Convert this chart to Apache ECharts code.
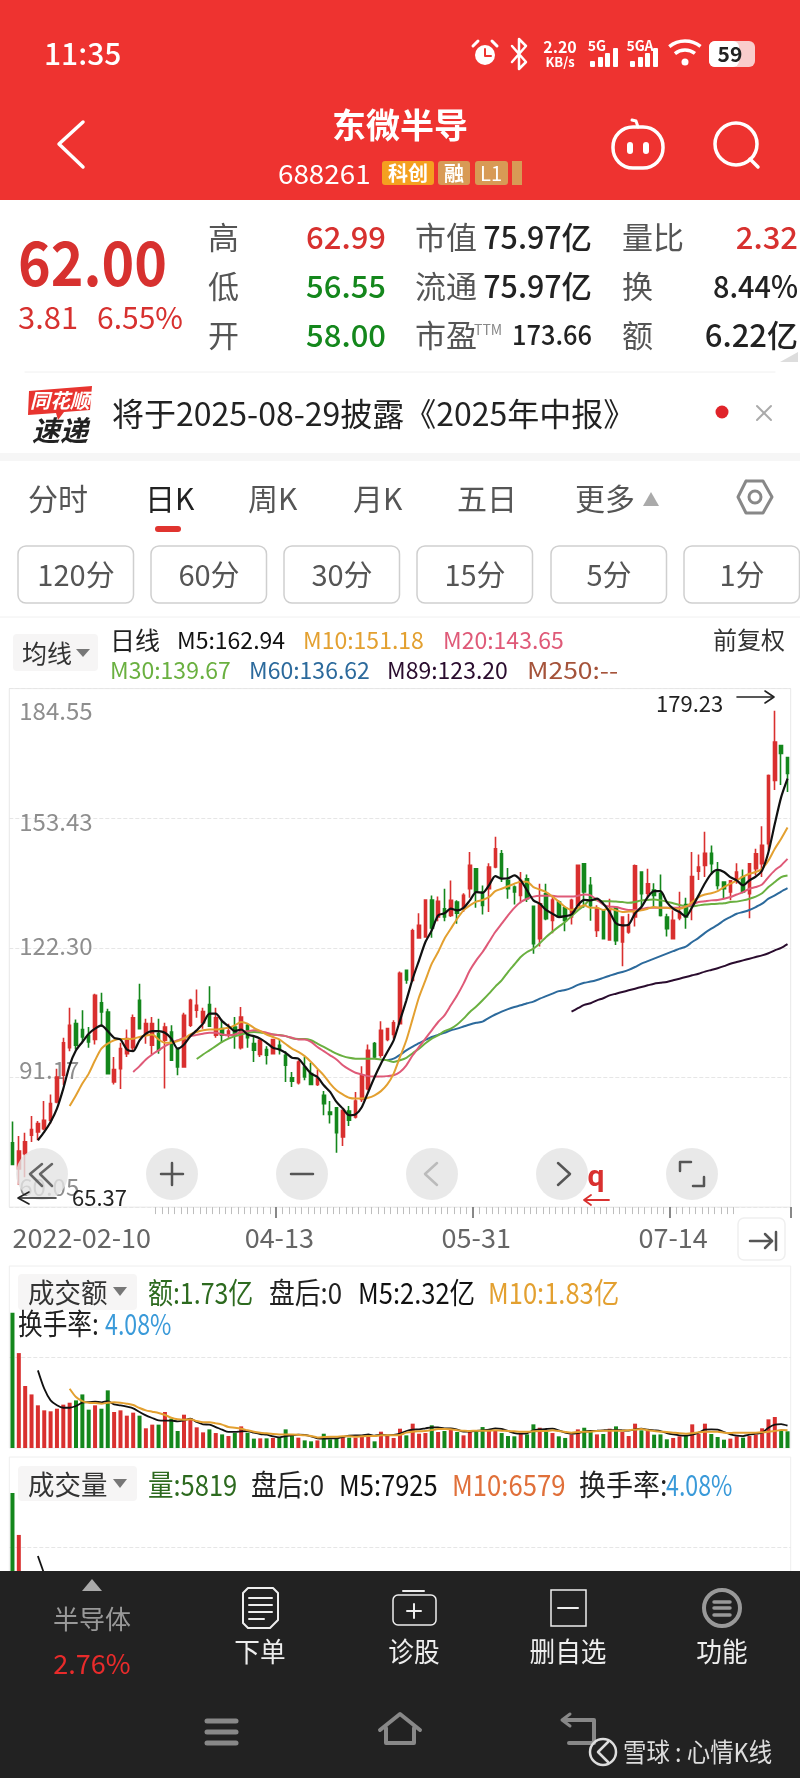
<!DOCTYPE html>
<html>
<head>
<meta charset="utf-8">
<title>东微半导 日K</title>
<style>
    html, body { margin: 0; padding: 0; background: #fff; }
    #main { width: 800px; height: 1778px; }
</style>
<script src="https://cdn.jsdelivr.net/npm/echarts@6/dist/echarts.min.js"></script>
</head>
<body>
<div id="main"></div>
<script>
// K线 数据 (从截图读取, 共123根)
var opens = [75.5, 69.2, 72.9, 77.3, 78.1, 78.9, 80.9, 85.3, 91.7, 98.3,
    104.1, 102.7, 101.3, 100.3, 109.1, 106.9, 90.1, 93.3, 96.9, 98.3,
    109.7, 101.3, 98.9, 101.7, 100.1, 102.1, 98.1, 93.7, 103.7, 107.3,
    104.3, 108.7, 101.3, 102.9, 101.3, 103.3, 98.3, 103.7, 99.3, 96.7,
    97.9, 96.9, 98.9, 96.5, 91.1, 89.9, 93.7, 92.1, 89.5, 86.9,
    82.9, 83.9, 76.9, 83.1, 81.7, 85.9, 88.5, 99.3, 96.5, 100.3,
    101.5, 104.1, 116.9, 114.5, 124.7, 124.9, 133.8, 129.7, 131.7, 130.1,
    133.3, 131.9, 136.5, 141.3, 135.7, 136.5, 141.7, 144.9, 138.5, 136.9,
    134.9, 138.9, 132.3, 124.5, 135.3, 128.9, 133.3, 131.9, 129.7, 132.5,
    142.5, 137.3, 126.5, 131.3, 124.2, 132.0, 123.7, 126.1, 129.7, 140.5,
    135.4, 136.2, 135.3, 129.7, 124.5, 129.5, 132.7, 132.9, 140.7, 142.1,
    145.0, 140.5, 138.1, 135.7, 138.3, 139.3, 135.3, 141.3, 142.5, 147.3,
    162.5, 170.9, 168.0];
var closes = [70.3, 73.5, 75.7, 78.7, 80.1, 80.9, 84.9, 91.3, 99.5, 103.7,
    98.9, 100.9, 99.7, 110.9, 106.9, 92.1, 93.1, 98.1, 100.5, 105.5,
    102.9, 104.1, 104.1, 97.7, 103.3, 95.3, 93.7, 106.1, 109.7, 108.5,
    107.0, 103.5, 105.5, 101.3, 102.3, 101.3, 105.7, 100.7, 97.7, 100.1,
    96.5, 100.3, 97.9, 94.1, 90.3, 94.9, 91.3, 89.5, 90.9, 84.9,
    82.3, 77.9, 83.3, 80.9, 85.5, 91.7, 97.7, 96.1, 102.5, 102.9,
    104.3, 116.2, 114.6, 126.4, 127.7, 133.8, 127.1, 133.5, 129.7, 133.7,
    130.6, 134.9, 142.1, 135.7, 132.5, 141.7, 146.1, 139.3, 136.5, 135.7,
    138.5, 134.1, 123.3, 132.9, 129.3, 133.8, 129.7, 128.9, 133.7, 142.1,
    135.7, 132.4, 131.7, 124.5, 131.7, 124.0, 129.7, 127.7, 142.0, 135.3,
    137.7, 134.9, 130.1, 126.9, 128.9, 130.9, 129.7, 139.4, 141.7, 145.0,
    142.5, 137.3, 136.5, 138.4, 140.5, 135.7, 142.5, 144.9, 146.9, 163.7,
    171.7, 169.0, 164.2];
var lows = [70.3, 65.37, 67.2, 75.7, 76.1, 78.5, 80.1, 85.0, 89.3, 97.5,
    97.9, 99.7, 98.3, 99.1, 103.3, 92.1, 89.5, 88.4, 96.1, 97.7,
    102.9, 99.3, 96.7, 96.9, 88.5, 95.3, 91.7, 93.7, 103.3, 105.5,
    102.9, 103.5, 100.7, 99.5, 100.7, 98.1, 97.9, 98.3, 94.9, 96.1,
    94.3, 96.7, 96.7, 90.1, 88.9, 89.5, 90.5, 89.5, 89.1, 82.1,
    80.1, 73.1, 74.7, 79.5, 81.3, 85.3, 88.1, 95.7, 95.9, 99.9,
    100.5, 103.9, 113.7, 114.3, 124.5, 124.7, 124.7, 128.7, 128.7, 129.7,
    128.1, 130.9, 134.3, 131.9, 130.3, 130.9, 141.4, 138.1, 134.1, 132.7,
    133.0, 133.3, 120.9, 122.6, 128.9, 125.8, 129.5, 126.3, 127.9, 132.2,
    131.9, 128.8, 124.9, 124.5, 124.1, 123.0, 117.9, 125.7, 127.4, 132.0,
    134.5, 132.0, 129.8, 125.0, 124.3, 128.9, 126.9, 128.9, 138.6, 139.3,
    139.9, 136.3, 134.1, 133.7, 137.7, 135.4, 129.4, 139.7, 139.3, 145.7,
    160.2, 161.4, 159.7];
var highs = [80.6, 77.1, 77.9, 81.9, 80.7, 85.5, 87.1, 93.3, 100.7, 107.9,
    105.1, 107.3, 103.3, 111.3, 111.5, 107.7, 96.1, 99.5, 102.7, 106.3,
    113.7, 105.3, 105.7, 105.3, 104.3, 103.7, 98.3, 106.7, 110.1, 112.3,
    107.9, 113.1, 107.9, 105.1, 104.1, 105.7, 108.1, 104.1, 101.3, 100.5,
    98.7, 100.5, 100.3, 97.5, 92.5, 95.3, 96.1, 94.7, 93.1, 87.9,
    85.5, 83.9, 83.3, 84.3, 87.7, 93.9, 99.1, 99.7, 104.7, 102.9,
    104.9, 116.6, 116.9, 126.9, 130.6, 133.8, 134.9, 134.6, 136.5, 138.5,
    133.7, 135.4, 145.3, 141.5, 137.3, 142.6, 149.0, 145.8, 141.5, 137.3,
    140.5, 139.9, 132.3, 137.7, 137.7, 134.5, 133.7, 132.2, 134.1, 142.1,
    142.5, 139.3, 132.5, 131.3, 134.1, 132.2, 129.7, 130.5, 142.3, 140.7,
    141.3, 137.8, 139.9, 130.5, 131.3, 135.8, 134.3, 145.3, 144.7, 150.2,
    146.9, 142.9, 138.2, 138.6, 142.6, 141.1, 142.7, 146.1, 151.5, 163.9,
    179.23, 170.9, 168.2];

// 均线 数据
var ma5 = [null, null, null, null, 76.1, 78.1, 80.5, 83.7, 88.5, 94.1,
    97.7, 99.7, 101.7, 102.9, 103.7, 102.3, 100.7, 100.3, 97.9, 97.5,
    100.1, 101.7, 102.3, 102.3, 101.9, 100.5, 98.1, 99.1, 101.1, 102.5,
    104.1, 106.5, 106.5, 104.7, 103.5, 102.3, 102.7, 101.5, 101.1, 100.5,
    99.5, 98.3, 97.9, 97.1, 95.9, 95.7, 93.9, 92.1, 91.3, 89.3,
    87.7, 85.3, 83.7, 82.1, 82.3, 84.1, 87.7, 91.3, 94.5, 97.3,
    100.1, 104.9, 109.7, 114.9, 119.3, 123.7, 126.5, 130.1, 130.6, 131.7,
    131.3, 131.9, 133.7, 135.7, 135.5, 137.3, 139.5, 138.9, 139.0, 139.7,
    138.5, 136.1, 133.7, 132.9, 131.4, 130.5, 129.7, 129.9, 130.3, 132.5,
    133.8, 133.7, 134.1, 132.9, 130.9, 128.2, 127.7, 127.9, 130.6, 132.1,
    134.5, 135.9, 135.9, 133.3, 131.7, 130.9, 129.8, 132.1, 134.9, 137.8,
    140.1, 141.0, 140.5, 139.3, 138.5, 137.3, 138.5, 139.4, 140.9, 145.3,
    152.1, 158.5, 162.94];
var ma10 = [null, null, null, null, null, null, null, null, null, 84.3,
    86.9, 89.7, 92.1, 95.3, 98.1, 99.3, 100.1, 100.4, 100.4, 100.5,
    100.9, 101.2, 101.5, 100.3, 99.5, 99.5, 99.9, 100.5, 101.5, 102.1,
    102.5, 102.7, 102.7, 102.9, 103.1, 103.7, 104.5, 104.1, 103.1, 102.3,
    101.5, 100.9, 100.3, 99.2, 98.1, 97.3, 96.3, 94.9, 93.3, 91.7,
    89.7, 88.1, 87.1, 86.3, 86.1, 86.1, 86.3, 86.9, 87.9, 89.5,
    92.1, 96.1, 100.1, 105.3, 110.5, 114.5, 118.5, 121.3, 124.5, 126.9,
    129.3, 131.3, 132.5, 133.4, 133.8, 134.5, 135.9, 136.5, 137.1, 137.7,
    138.2, 138.2, 136.9, 136.3, 135.7, 134.6, 133.4, 132.1, 131.4, 131.9,
    132.5, 131.9, 131.9, 131.4, 131.7, 131.3, 130.9, 131.0, 131.1, 131.3,
    131.7, 132.1, 131.9, 131.9, 131.7, 131.7, 132.2, 133.3, 134.5, 135.1,
    135.4, 135.9, 136.9, 137.7, 138.5, 139.4, 140.1, 140.5, 141.3, 143.3,
    146.1, 148.5, 151.18];
var ma20 = [null, null, null, null, null, null, null, null, null, null,
    null, null, null, null, null, null, null, null, null, 92.5,
    93.9, 95.5, 96.7, 97.7, 98.7, 99.5, 100.1, 100.7, 101.1, 101.4,
    101.7, 101.9, 101.9, 101.5, 101.3, 101.5, 102.1, 102.3, 102.5, 102.3,
    101.9, 101.5, 101.3, 101.1, 100.7, 100.3, 100.3, 99.7, 98.5, 97.5,
    96.5, 95.5, 94.1, 93.1, 92.3, 91.9, 91.5, 91.4, 91.4, 91.5,
    91.7, 92.5, 94.1, 96.5, 98.5, 100.5, 102.5, 104.5, 106.1, 108.5,
    110.9, 113.7, 116.9, 119.3, 121.3, 123.7, 126.1, 128.1, 130.1, 131.9,
    133.3, 134.1, 134.6, 134.8, 134.8, 134.8, 134.6, 134.6, 134.6, 134.8,
    135.1, 134.9, 133.8, 132.7, 132.2, 132.1, 131.7, 131.4, 131.4, 131.6,
    131.9, 131.9, 131.9, 131.9, 131.9, 131.9, 132.2, 132.7, 133.3, 133.5,
    133.7, 133.8, 134.1, 134.5, 135.1, 135.7, 136.5, 136.9, 137.5, 139.3,
    140.9, 142.1, 143.65];
var ma30 = [null, null, null, null, null, null, null, null, null, null,
    null, null, null, null, null, null, null, null, null, null,
    null, null, null, null, null, null, null, null, null, 95.6,
    96.7, 97.7, 98.7, 99.7, 100.5, 101.1, 101.5, 101.9, 102.1, 102.0,
    101.7, 101.5, 101.4, 101.1, 100.6, 100.4, 100.4, 100.1, 99.3, 98.5,
    97.7, 96.9, 96.3, 95.9, 95.7, 95.7, 95.7, 95.7, 95.5, 95.3,
    94.9, 95.3, 95.9, 97.0, 98.1, 99.4, 100.5, 101.3, 102.3, 102.9,
    103.9, 105.3, 106.9, 108.2, 109.7, 111.3, 113.0, 114.5, 116.5, 118.3,
    120.1, 121.3, 122.1, 123.4, 124.9, 126.2, 127.4, 128.5, 129.9, 131.3,
    132.5, 133.9, 133.7, 133.5, 133.5, 133.4, 133.3, 133.1, 133.3, 133.7,
    133.8, 133.9, 133.7, 133.4, 133.0, 132.6, 132.3, 132.3, 132.5, 132.7,
    132.8, 132.9, 133.0, 133.3, 133.4, 133.7, 134.1, 134.6, 135.4, 136.9,
    138.1, 139.3, 139.67];
var ma60 = [null, null, null, null, null, null, null, null, null, null,
    null, null, null, null, null, null, null, null, null, null,
    null, null, null, null, null, null, null, null, null, null,
    null, null, null, null, null, null, null, null, null, null,
    null, null, null, null, null, null, null, null, null, null,
    null, null, null, null, null, null, null, null, null, 95.3,
    95.7, 96.6, 97.7, 98.6, 99.4, 100.2, 100.9, 101.4, 101.9, 102.5,
    102.9, 103.4, 103.9, 104.3, 104.6, 105.5, 106.3, 107.0, 107.6, 108.1,
    108.5, 109.0, 109.4, 110.1, 110.7, 111.3, 111.9, 112.2, 112.7, 113.4,
    113.9, 114.2, 114.6, 115.1, 115.6, 116.1, 116.5, 117.0, 117.7, 118.5,
    119.1, 119.7, 120.3, 120.9, 121.5, 122.1, 122.6, 123.7, 124.7, 125.9,
    126.9, 127.8, 128.9, 129.7, 130.5, 130.9, 131.4, 132.1, 132.9, 134.1,
    134.9, 135.8, 136.62];
var ma89 = [null, null, null, null, null, null, null, null, null, null,
    null, null, null, null, null, null, null, null, null, null,
    null, null, null, null, null, null, null, null, null, null,
    null, null, null, null, null, null, null, null, null, null,
    null, null, null, null, null, null, null, null, null, null,
    null, null, null, null, null, null, null, null, null, null,
    null, null, null, null, null, null, null, null, null, null,
    null, null, null, null, null, null, null, null, null, null,
    null, null, null, null, null, null, null, null, 107.0, 107.8,
    108.6, 109.0, 109.7, 110.2, 110.9, 111.3, 111.7, 112.1, 112.5, 112.9,
    113.3, 113.7, 113.9, 114.1, 114.5, 114.9, 115.3, 115.7, 116.1, 116.6,
    117.0, 117.4, 117.9, 118.5, 118.9, 119.3, 119.7, 120.1, 120.5, 121.0,
    121.7, 122.3, 123.2];

// 成交额 (亿)
var amounts = [14.0, 9.83, 6.42, 5.55, 4.42, 3.90, 3.80, 4.07, 4.49, 4.69,
    4.93, 5.55, 3.97, 4.42, 4.07, 5.97, 3.73, 3.90, 3.35, 3.66,
    3.35, 2.04, 2.42, 2.42, 3.73, 3.04, 1.76, 3.45, 3.11, 2.14,
    1.62, 1.93, 1.55, 1.41, 1.24, 1.55, 2.24, 1.59, 0.97, 1.00,
    1.00, 1.04, 1.04, 1.93, 1.24, 1.07, 0.79, 0.69, 0.79, 1.48,
    0.90, 1.04, 1.14, 1.07, 1.07, 1.14, 1.31, 0.69, 1.69, 1.24,
    1.04, 2.00, 1.31, 2.52, 1.48, 1.55, 2.35, 1.66, 1.76, 1.90,
    1.66, 1.31, 1.66, 1.66, 2.17, 1.83, 1.76, 1.55, 1.24, 1.21,
    1.48, 1.41, 2.45, 2.10, 1.66, 1.55, 1.21, 1.04, 1.41, 1.93,
    2.10, 1.66, 1.41, 1.45, 2.00, 2.24, 1.66, 1.24, 2.52, 1.83,
    1.76, 1.38, 1.41, 0.90, 1.04, 1.21, 1.24, 2.45, 1.48, 2.52,
    1.45, 1.14, 0.86, 0.97, 1.21, 1.07, 1.24, 1.38, 2.04, 2.97,
    3.21, 1.76, 1.73];
var amountM5 = [null, null, null, null, 8.04, 6.14, 4.93, 4.42, 4.17, 4.17,
    4.35, 4.69, 4.76, 4.80, 4.73, 4.86, 4.52, 4.42, 4.28, 4.11,
    3.73, 3.38, 3.11, 2.86, 2.83, 2.83, 2.76, 2.86, 3.04, 2.69,
    2.45, 2.42, 2.17, 1.90, 1.66, 1.66, 1.73, 1.76, 1.59, 1.45,
    1.38, 1.21, 1.10, 1.24, 1.31, 1.38, 1.35, 1.21, 1.00, 0.97,
    1.00, 1.00, 1.14, 1.28, 1.31, 1.31, 1.41, 1.28, 1.38, 1.31,
    1.35, 1.50, 1.76, 1.90, 1.93, 2.04, 2.14, 2.14, 2.04, 2.04,
    1.90, 1.69, 1.69, 1.76, 1.83, 1.90, 2.04, 1.97, 1.76, 1.55,
    1.48, 1.52, 1.83, 1.93, 1.97, 2.00, 1.83, 1.59, 1.48, 1.55,
    1.69, 1.76, 1.79, 1.83, 1.86, 1.86, 1.83, 1.79, 1.93, 2.00,
    1.90, 1.83, 1.76, 1.55, 1.41, 1.31, 1.28, 1.38, 1.59, 1.90,
    1.93, 1.90, 1.66, 1.41, 1.28, 1.24, 1.38, 1.48, 1.59, 2.10,
    2.42, 2.48, 2.32];
var amountM10 = [null, null, null, null, null, null, null, null, null, 6.14,
    5.28, 4.86, 4.69, 4.66, 4.59, 4.69, 4.73, 4.69, 4.59, 4.45,
    4.14, 3.90, 3.76, 3.62, 3.42, 3.14, 2.97, 2.93, 2.97, 2.79,
    2.66, 2.66, 2.55, 2.42, 2.17, 2.10, 2.00, 1.83, 1.69, 1.59,
    1.52, 1.45, 1.41, 1.41, 1.41, 1.38, 1.31, 1.24, 1.10, 1.14,
    1.17, 1.17, 1.21, 1.21, 1.17, 1.21, 1.24, 1.24, 1.31, 1.31,
    1.31, 1.35, 1.59, 1.69, 1.73, 1.76, 1.86, 1.97, 1.97, 1.93,
    1.83, 1.79, 1.76, 1.79, 1.79, 1.79, 1.83, 1.79, 1.76, 1.73,
    1.69, 1.69, 1.73, 1.76, 1.76, 1.83, 1.76, 1.66, 1.59, 1.66,
    1.69, 1.69, 1.76, 1.79, 1.79, 1.79, 1.79, 1.83, 1.90, 1.97,
    1.83, 1.76, 1.69, 1.66, 1.59, 1.52, 1.48, 1.52, 1.62, 1.69,
    1.69, 1.69, 1.59, 1.55, 1.59, 1.59, 1.59, 1.59, 1.62, 1.69,
    1.76, 1.86, 1.83];

// 成交量: 其余柱子被底部工具栏遮住, 只能读到前两根
var volumes = [80000, 56700];
var volumeM5 = [null, null, null, null, 45000, 35000];

// 坐标轴刻度
var yTicks = [60.05, 91.17, 122.30, 153.43, 184.55];
var yLabelShift = [-20, -8, -2, 4, 22];
var xTickIndex = [0, 42, 73, 104];
var xTickLabels = ['2022-02-10', '04-13', '05-31', '07-14'];
var rulerTicks = [];
for (var t = 23; t <= 114; t++) {
    rulerTicks.push(t);
}

// 价格标签不在网格线正中, 标签位置按像素偏移换算成价格
var pxPerPrice = 518.5 / (184.55 - 60.05);
var yLabelValues = [];
for (var n = 0; n < yTicks.length; n++) {
    yLabelValues.push(yTicks[n] - yLabelShift[n] / pxPerPrice);
}

var categories = [];
for (var i = 0; i < opens.length; i++) {
    var tickPos = xTickIndex.indexOf(i);
    categories.push(tickPos >= 0 ? xTickLabels[tickPos] : String(i));
}

var upColor = '#d9302f';
var downColor = '#14871c';
var cnFont = '"Noto Sans CJK SC", "Noto Sans", sans-serif';

var candleData = [];
var amountBars = [];
var volumeBars = [];
for (var j = 0; j < opens.length; j++) {
    candleData.push([opens[j], closes[j], lows[j], highs[j]]);
    amountBars.push({
        value: amounts[j],
        itemStyle: { color: closes[j] >= opens[j] ? upColor : downColor }
    });
    if (j < volumes.length) {
        volumeBars.push({
            value: volumes[j],
            itemStyle: { color: closes[j] >= opens[j] ? upColor : downColor }
        });
    }
}

// 界面元素 (状态栏, 报价区, 按钮, 工具栏)
var elements = [];

function addText(x, y, text, size, color, align, extra) {
    extra = extra || {};
    elements.push({
        type: 'text', x: x, y: y, z: 100, silent: true,
        scaleX: extra.scaleX || 1,
        style: {
            text: text, fontSize: size, fill: color, align: align || 'left', verticalAlign: 'middle',
            fontFamily: extra.family || cnFont, fontWeight: extra.weight || 'normal',
            fontStyle: extra.italic ? 'italic' : 'normal'
        }
    });
}
function addRect(x, y, w, h, fill, stroke, radius, zValue) {
    elements.push({
        type: 'rect', z: zValue || 90, silent: true,
        shape: { x: x, y: y, width: w, height: h, r: radius || 0 },
        style: { fill: fill || 'none', stroke: stroke || 'none', lineWidth: stroke ? 1.5 : 0 }
    });
}
function addLine(points, color, width, closed) {
    elements.push({
        type: closed ? 'polygon' : 'polyline', z: 100, silent: true,
        shape: { points: points },
        style: closed ? { fill: color } : { stroke: color, lineWidth: width, fill: 'none', lineCap: 'round', lineJoin: 'round' }
    });
}
function addCircle(cx, cy, r, fill, stroke, width, zValue, opacity) {
    elements.push({
        type: 'circle', z: zValue || 100, silent: true,
        shape: { cx: cx, cy: cy, r: r },
        style: { fill: fill || 'none', stroke: stroke || 'none', lineWidth: width || 0, opacity: opacity === undefined ? 1 : opacity }
    });
}

// 顶部红色区域
addRect(0, 0, 800, 200, '#ee3330');
addText(44, 54, '11:35', 30, '#fff', 'left', { weight: 500 });
addCircle(485, 55, 10, '#fff');
addLine([[485, 49], [485, 56], [491, 56]], '#ee3330', 2);
addLine([[473, 46], [478, 41]], '#fff', 3);
addLine([[497, 46], [492, 41]], '#fff', 3);
addLine([[512, 46], [526, 62], [519, 69], [519, 39], [526, 46], [512, 62]], '#fff', 2.5);
addText(560, 47, '2.20', 16, '#fff', 'center', { weight: 'bold' });
addText(560, 62, 'KB/s', 13, '#fff', 'center', { weight: 'bold' });
addText(597, 46, '5G', 14, '#fff', 'center', { weight: 'bold' });
addText(640, 46, '5GA', 14, '#fff', 'center', { weight: 'bold' });
var signalX = [590, 598, 605, 613, 630, 638, 645, 653];
var signalH = [6, 10, 14, 19, 6, 10, 14, 19];
for (var s = 0; s < signalX.length; s++) {
    addRect(signalX[s], 67 - signalH[s], 5, signalH[s], '#fff', null, 1, 100);
}
elements.push({ type: 'arc', z: 100, silent: true, shape: { cx: 685, cy: 66, r: 25, startAngle: -2.25, endAngle: -0.9 }, style: { stroke: '#fff', lineWidth: 3.5, fill: 'none' } });
elements.push({ type: 'arc', z: 100, silent: true, shape: { cx: 685, cy: 66, r: 16, startAngle: -2.25, endAngle: -0.9 }, style: { stroke: '#fff', lineWidth: 3.5, fill: 'none' } });
addCircle(685, 62, 3.5, '#fff');
addRect(709, 41, 46, 26, '#f9cccc', null, 6, 99);
addRect(709, 41, 30, 26, '#fff', null, 6, 100);
addText(730, 54, '59', 21, '#222', 'center', { weight: 'bold' });

addText(400, 125, '东微半导', 34, '#fff', 'center', { weight: 'bold' });
addLine([[83, 122], [59, 144], [83, 167]], '#fff', 3.5);
addText(278, 174, '688261', 27, '#fff', 'left', { scaleX: 1.03 });
addRect(382, 161, 52, 24, '#f4a020', null, 3, 100);
addText(408, 173, '科创', 20, '#fff', 'center', { weight: 'bold' });
addRect(438, 161, 32, 24, '#d89a55', null, 3, 100);
addText(454, 173, '融', 20, '#fff', 'center', { weight: 'bold' });
addRect(475, 161, 33, 24, '#d89a55', null, 3, 100);
addText(491, 173, 'L1', 20, '#fff', 'center');
addRect(512, 161, 10, 24, '#d89a55', null, 0, 100);

addRect(613, 127, 50, 41, 'none', '#fff', 20, 100);
elements[elements.length - 1].style.lineWidth = 3.5;
addRect(627, 142, 6, 12, '#fff', null, 3, 100);
addRect(643, 142, 6, 12, '#fff', null, 3, 100);
addLine([[638, 127], [636, 121], [632, 120]], '#fff', 3);
addCircle(736, 144, 21, 'none', '#fff', 3.5);
addLine([[750, 159], [758, 167]], '#fff', 3.5);

// 报价区
addText(18, 263, '62.00', 61, '#d7312f', 'left', { weight: 'bold', scaleX: 0.91 });
addText(18, 318, '3.81', 30, '#d7312f', 'left', { scaleX: 1.03 });
addText(97, 318, '6.55%', 30, '#d7312f', 'left');

var quoteRowY = [237, 286, 335];
var quoteNames = ['高', '低', '开'];
var quoteVals = ['62.99', '56.55', '58.00'];
var quoteColors = ['#d7312f', '#14871c', '#14871c'];
var midNames = ['市值', '流通', '市盈'];
var midVals = ['75.97亿', '75.97亿', '173.66'];
var midSizes = [31, 31, 27];
var midScale = [0.98, 0.98, 0.94];
var rightNames = ['量比', '换', '额'];
var rightVals = ['2.32', '8.44%', '6.22亿'];
var rightColors = ['#d7312f', '#222', '#222'];
var rightScale = [1, 0.93, 1];
for (var r = 0; r < 3; r++) {
    addText(208, quoteRowY[r], quoteNames[r], 31, '#555');
    addText(386, quoteRowY[r], quoteVals[r], 31, quoteColors[r], 'right', { weight: 500 });
    addText(415, quoteRowY[r], midNames[r], 31, '#555');
    addText(592, quoteRowY[r], midVals[r], midSizes[r], '#222', 'right', { scaleX: midScale[r], weight: 500 });
    addText(622, quoteRowY[r], rightNames[r], 31, '#555');
    addText(798, quoteRowY[r], rightVals[r], 31, rightColors[r], 'right', { scaleX: rightScale[r], weight: 500 });
}
addText(474, 330, 'TTM', 14, '#888', 'left');
addLine([[780, 362], [798, 362], [798, 352]], '#ddd', 0, true);

addLine([[25, 372], [775, 372]], '#f0f0f0', 1);
addLine([[29, 391], [92, 386], [90, 410], [64, 412], [58, 420], [56, 413], [28, 415]], '#e8342f', 0, true);
addText(60, 400, '同花顺', 20, '#fff', 'center', { weight: 'bold', italic: true });
addText(60, 430, '速递', 28, '#222', 'center', { weight: 'bold', italic: true });
addText(112, 414, '将于2025-08-29披露《2025年中报》', 32, '#222', 'left');
addCircle(722, 412, 6.5, '#e0242a');
addLine([[757, 406], [771, 420]], '#aaa', 2);
addLine([[771, 406], [757, 420]], '#aaa', 2);
addRect(0, 453, 800, 8, '#f6f6f6');

// 周期选择
var tabNames = ['分时', '日K', '周K', '月K', '五日', '更多'];
var tabX = [28, 145, 248, 353, 457, 575];
for (var k = 0; k < tabNames.length; k++) {
    addText(tabX[k], 499, tabNames[k], 30, k === 1 ? '#222' : '#555');
}
addLine([[643, 506], [659, 506], [651, 492]], '#aaa', 0, true);
addLine([[746, 481], [763, 481], [772, 497], [763, 513], [746, 513], [738, 497], [746, 481]], '#888', 3);
addCircle(755, 497, 6, 'none', '#888', 3);
addRect(155, 526, 26, 6, '#e0342f', null, 3, 100);

var btnNames = ['120分', '60分', '30分', '15分', '5分', '1分'];
var btnX = [18, 151, 284, 417, 551, 684];
for (var b = 0; b < btnNames.length; b++) {
    addRect(btnX[b], 546, 115.5, 57, '#fff', '#cfcfcf', 8, 90);
    addText(btnX[b] + 58, 575, btnNames[b], 29, '#555', 'center');
}
addLine([[0, 617], [800, 617]], '#f0f0f0', 1);

// K线图例
addRect(13, 634, 85, 37, '#f6f5f5', null, 4, 90);
addText(22, 653, '均线', 25, '#333');
addLine([[76, 649], [90, 649], [83, 657]], '#777', 0, true);
addText(110, 640, '日线', 25, '#222');
addText(177, 640, 'M5:162.94', 23, '#111');
addText(303, 640, 'M10:151.18', 23, '#e3a030');
addText(443, 640, 'M20:143.65', 23, '#df5a78');
addText(713, 640, '前复权', 24, '#333');
addText(110, 670, 'M30:139.67', 23, '#6ab040');
addText(249, 670, 'M60:136.62', 23, '#2c6a9c');
addText(387, 670, 'M89:123.20', 23, '#2a0c2e');
addText(527, 670, 'M250:--', 23, '#a5533a', 'left', { scaleX: 1.15 });

// 最高 最低 标注
addText(656, 704, '179.23', 22, '#222');
addLine([[737, 697], [773, 697]], '#222', 1.6);
addLine([[765, 691], [774, 697], [765, 703]], '#222', 1.6);
addText(72, 1198, '65.37', 22, '#222');
addLine([[56, 1198], [19, 1198]], '#222', 1.6);
addLine([[29, 1192], [18, 1198], [29, 1204]], '#222', 1.6);

// K线上的圆形按钮
var roundX = [42, 172, 302, 432, 562, 692];
for (var c = 0; c < roundX.length; c++) {
    addCircle(roundX[c], 1174, 26, '#e4e4e4', null, 0, 80, 0.8);
}
addLine([[42, 1164], [30, 1174], [42, 1186]], '#666', 2.5);
addLine([[52, 1164], [40, 1174], [52, 1186]], '#666', 2.5);
addLine([[161, 1174], [183, 1174]], '#555', 2.5);
addLine([[172, 1163], [172, 1185]], '#555', 2.5);
addLine([[291, 1174], [313, 1174]], '#555', 2.5);
addLine([[437, 1163], [425, 1174], [437, 1185]], '#bbb', 2.5);
addLine([[558, 1163], [570, 1174], [558, 1185]], '#555', 2.5);
addLine([[680, 1171], [680, 1162], [691, 1162]], '#555', 2.5);
addLine([[704, 1177], [704, 1186], [693, 1186]], '#555', 2.5);
addText(596, 1178, 'q', 30, '#d9302f', 'center', { weight: 'bold', family: 'Roboto, sans-serif' });
addLine([[609, 1200], [585, 1200]], '#d9302f', 1.8);
addLine([[591, 1195], [584, 1200], [591, 1205]], '#d9302f', 1.8);

addRect(738, 1218, 47, 42, '#fff', '#efefef', 6, 90);
addLine([[750, 1241], [772, 1241]], '#555', 2.5);
addLine([[765, 1234], [772, 1241], [765, 1248]], '#555', 2.5);
addLine([[776, 1232], [776, 1250]], '#555', 2.5);

// 成交额 图例
addRect(18, 1274, 119, 36, '#f6f5f5', null, 4, 90);
addText(28, 1293, '成交额', 27, '#333', 'left', { scaleX: 0.98 });
addLine([[113, 1287], [127, 1287], [120, 1296]], '#777', 0, true);
addText(148, 1293, '额:1.73亿', 29, '#2d6a1f', 'left', { scaleX: 0.86 });
addText(269, 1293, '盘后:0', 29, '#222', 'left', { scaleX: 0.89 });
addText(358, 1293, 'M5:2.32亿', 29, '#111', 'left', { scaleX: 0.88 });
addText(488, 1293, 'M10:1.83亿', 29, '#e3a030', 'left', { scaleX: 0.88 });
addText(18, 1324, '换手率:', 29, '#222', 'left', { scaleX: 0.85 });
addText(105, 1324, '4.08%', 29, '#3a9ad9', 'left', { scaleX: 0.8 });

// 成交量 图例
addRect(18, 1466, 119, 35, '#f6f5f5', null, 4, 90);
addText(28, 1485, '成交量', 27, '#333', 'left', { scaleX: 0.98 });
addLine([[113, 1479], [127, 1479], [120, 1488]], '#777', 0, true);
addText(148, 1485, '量:5819', 29, '#2d6a1f', 'left', { scaleX: 0.88 });
addText(251, 1485, '盘后:0', 29, '#222', 'left', { scaleX: 0.89 });
addText(339, 1485, 'M5:7925', 29, '#111', 'left', { scaleX: 0.88 });
addText(452, 1485, 'M10:6579', 29, '#e0703a', 'left', { scaleX: 0.885 });
addText(579, 1485, '换手率:', 29, '#222', 'left', { scaleX: 0.93 });
addText(666, 1485, '4.08%', 29, '#3a9ad9', 'left', { scaleX: 0.8 });

// 底部工具栏
addRect(0, 1571, 800, 207, '#222222', null, 0, 95);
addLine([[82, 1591], [102, 1591], [92, 1579]], '#aaa', 0, true);
addText(92, 1619, '半导体', 26, '#999', 'center');
addText(92, 1664, '2.76%', 27, '#e82b2b', 'center');
var toolX = [260, 414, 568, 722];
var toolNames = ['下单', '诊股', '删自选', '功能'];
for (var q = 0; q < toolNames.length; q++) {
    addText(toolX[q], 1652, toolNames[q], 27, '#eee', 'center', { scaleX: 0.95 });
}
addLine([[248, 1588], [273, 1588], [278, 1593], [278, 1620], [270, 1628], [248, 1628], [243, 1623], [243, 1593], [248, 1588]], '#eee', 2);
addLine([[249, 1598], [272, 1598]], '#eee', 2);
addLine([[249, 1605], [272, 1605]], '#eee', 2);
addLine([[249, 1612], [272, 1612]], '#eee', 2);
addLine([[249, 1619], [264, 1619]], '#eee', 2);
addRect(393, 1595, 43, 30, 'none', '#eee', 5, 100);
addLine([[403, 1591], [424, 1591]], '#eee', 2);
addLine([[407, 1611], [421, 1611]], '#eee', 2);
addLine([[414, 1604], [414, 1618]], '#eee', 2);
addRect(551, 1590, 35, 36, 'none', '#eee', 0, 100);
addLine([[558, 1608], [578, 1608]], '#eee', 2);
addCircle(722, 1608, 18, 'none', '#999', 4);
addLine([[714, 1602], [730, 1602]], '#999', 3.5);
addLine([[714, 1608], [730, 1608]], '#999', 3.5);
addLine([[714, 1615], [730, 1615]], '#999', 3.5);

addLine([[207, 1721], [236, 1721]], '#888', 5);
addLine([[207, 1732], [236, 1732]], '#888', 5);
addLine([[207, 1743], [236, 1743]], '#888', 5);
addLine([[380, 1730], [400, 1714], [420, 1730]], '#888', 4);
addLine([[386, 1728], [386, 1743], [414, 1743], [414, 1728]], '#888', 4);
addLine([[564, 1720], [594, 1720], [594, 1743], [569, 1743]], '#888', 4);
addLine([[570, 1714], [562, 1720], [570, 1726]], '#888', 3);

addCircle(603, 1752, 13, 'none', '#ddd', 2.5);
addLine([[608, 1742], [598, 1752], [608, 1762]], '#ddd', 2.5);
addText(623, 1752, '雪球 : 心情K线', 26, '#ddd', 'left', { scaleX: 0.9 });

function maLine(name, data, color, width) {
    return {
        name: name, type: 'line', data: data, xAxisIndex: 0, yAxisIndex: 0,
        symbol: 'none', smooth: 0.25, z: 5,
        lineStyle: { color: color, width: width || 2 }
    };
}

var chart = echarts.init(document.getElementById('main'));
chart.setOption({
    animation: false,
    backgroundColor: '#fff',
    graphic: { elements: elements },
    grid: [
        { left: 9.3, width: 781.4, top: 688.6, height: 518.5, show: true, borderColor: '#e8e8e8', borderWidth: 1 },
        { left: 9.3, width: 781.4, top: 1266, height: 182, show: true, borderColor: '#eeeeee', borderWidth: 1 },
        { left: 9.3, width: 781.4, top: 1457, height: 180, show: true, borderColor: '#eeeeee', borderWidth: 1 }
    ],
    xAxis: [
        {
            type: 'category', gridIndex: 0, data: categories, position: 'bottom',
            axisLine: { show: false },
            axisTick: { show: true, customValues: rulerTicks, length: 7, lineStyle: { color: '#bdbdbd' } },
            axisLabel: {
                show: true, customValues: xTickIndex, alignMinLabel: 'left', margin: 17,
                fontSize: 27, fontFamily: cnFont, color: '#666'
            }
        },
        {
            type: 'category', gridIndex: 0, data: categories, position: 'bottom',
            axisLine: { show: false },
            axisTick: { show: true, customValues: xTickIndex.slice(1), length: 11, lineStyle: { color: '#888', width: 2 } },
            axisLabel: { show: false }
        },
        { type: 'category', gridIndex: 1, data: categories, axisLine: { show: false }, axisTick: { show: false }, axisLabel: { show: false } },
        { type: 'category', gridIndex: 2, data: categories, axisLine: { show: false }, axisTick: { show: false }, axisLabel: { show: false } }
    ],
    yAxis: [
        {
            type: 'value', gridIndex: 0, min: 60.05, max: 184.55, scale: true,
            axisLine: { show: false },
            axisTick: { show: false, customValues: yTicks },
            axisLabel: {
                show: true, inside: true, margin: 10, customValues: yLabelValues,
                fontSize: 24, fontFamily: cnFont, color: '#8e8e8e',
                formatter: function (value) {
                    // 标签位置对应回最近的刻度值
                    var nearest = 0;
                    for (var m = 1; m < yTicks.length; m++) {
                        if (Math.abs(yTicks[m] - value) < Math.abs(yTicks[nearest] - value)) {
                            nearest = m;
                        }
                    }
                    return yTicks[nearest].toFixed(2);
                }
            },
            splitLine: { show: true, lineStyle: { color: '#e6e6e6', type: 'dashed', width: 1 } }
        },
        {
            type: 'value', gridIndex: 1, min: 0, max: 18.85,
            axisLine: { show: false },
            axisTick: { show: false, customValues: [9.45] },
            axisLabel: { show: false },
            splitLine: { show: true, lineStyle: { color: '#e6e6e6', type: 'dashed', width: 1 } }
        },
        {
            type: 'value', gridIndex: 2, min: 0, max: 100000,
            axisLine: { show: false },
            axisTick: { show: false, customValues: [50000] },
            axisLabel: { show: false },
            splitLine: { show: true, lineStyle: { color: '#e6e6e6', type: 'dashed', width: 1 } }
        }
    ],
    series: [
        {
            name: '日K', type: 'candlestick', data: candleData, xAxisIndex: 0, yAxisIndex: 0,
            barWidth: 3, z: 3,
            itemStyle: { color: upColor, color0: downColor, borderColor: upColor, borderColor0: downColor, borderWidth: 1.6 }
        },
        maLine('M60', ma60, '#2c6a9c'),
        maLine('M89', ma89, '#2a0c2e'),
        maLine('M30', ma30, '#6ab040'),
        maLine('M20', ma20, '#df5a78'),
        maLine('M10', ma10, '#e3a030'),
        maLine('M5', ma5, '#111111', 2.2),
        {
            name: '成交额', type: 'bar', data: amountBars, xAxisIndex: 2, yAxisIndex: 1,
            barWidth: 4, silent: true
        },
        {
            name: '额M5', type: 'line', data: amountM5, xAxisIndex: 2, yAxisIndex: 1,
            symbol: 'none', smooth: 0.25, lineStyle: { color: '#111111', width: 1.8 }
        },
        {
            name: '额M10', type: 'line', data: amountM10, xAxisIndex: 2, yAxisIndex: 1,
            symbol: 'none', smooth: 0.25, lineStyle: { color: '#e3a030', width: 2 }
        },
        {
            name: '成交量', type: 'bar', data: volumeBars, xAxisIndex: 3, yAxisIndex: 2,
            barWidth: 4, silent: true
        },
        {
            name: '量M5', type: 'line', data: volumeM5, xAxisIndex: 3, yAxisIndex: 2,
            symbol: 'none', lineStyle: { color: '#111111', width: 1.8 }
        }
    ]
});
</script>
</body>
</html>
